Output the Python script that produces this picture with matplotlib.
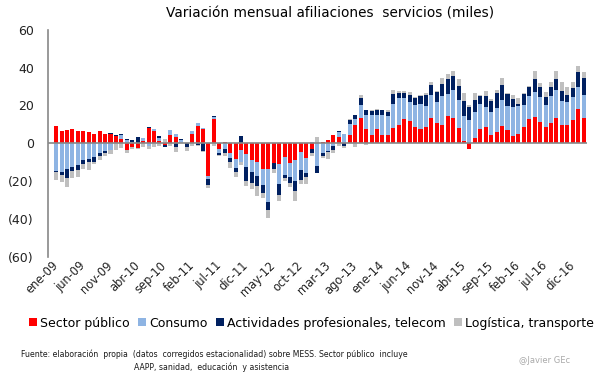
import numpy as np
import matplotlib
matplotlib.use("Agg")
import matplotlib.pyplot as plt

# variacion mensual (miles), ene-09 .. feb-17
sector_publico = [
    9.2, 6.5, 7.1, 7.6, 6.5, 6.5, 6.0, 4.9, 6.5, 4.9, 4.9, 3.9,
    2.5, -3.5, -2.0, -2.6, 1.2, 8.3, 6.5, 1.2, -1.1, 4.6, 3.4, 0.0,
    0.0, 4.9, 9.2, 7.6, -17.1, 12.9, -3.1, 0.7, -5.1, -8.3, -3.7, -5.6,
    -9.0, -9.7, -13.6, -13.6, -10.6, -10.9, -7.1, -10.6, -8.8, -4.6, -7.6, -3.0,
    0.0, 0.7, 1.8, 4.4, 3.5, 0.0, 4.4, 9.7, 13.4, 7.6, 4.4, 7.6,
    4.4, 4.4, 8.1, 9.7, 12.9, 11.8, 8.6, 7.6, 8.6, 13.4, 10.8, 9.7,
    14.5, 13.4, 8.1, 1.3, -3.0, 2.8, 7.6, 8.6, 4.4, 6.0, 9.2, 7.1,
    3.9, 4.9, 8.6, 12.9, 13.9, 11.3, 8.6, 10.8, 13.4, 9.7, 9.7, 12.4,
    18.2, 13.4]
consumo = [
    -14.6, -15.3, -13.6, -12.5, -11.5, -8.8, -8.3, -7.2, -5.1, -4.0, -3.4, 0.0,
    1.8, 1.8, 0.6, 0.0, 1.6, -1.3, 1.2, 1.6, 0.0, 2.3, 1.4, 1.8,
    0.0, 1.6, 1.5, 0.5, -1.7, 1.1, -1.9, -2.9, -2.6, -4.6, -6.0, -7.2,
    -6.4, -7.4, -8.5, -17.3, 0.0, -10.6, -9.9, -7.1, -11.1, -9.5, -7.9, 0.7,
    -12.0, -4.9, -4.2, -1.4, 2.5, 4.9, 5.9, 3.4, 6.8, 7.4, 10.5, 7.4,
    10.6, 10.1, 12.7, 14.3, 11.1, 10.1, 11.6, 13.2, 11.1, 12.2, 11.1, 15.4,
    11.6, 14.6, 14.8, 13.1, 12.4, 13.8, 13.2, 10.6, 12.2, 12.7, 13.8, 12.7,
    15.4, 14.8, 11.6, 12.2, 13.2, 13.2, 11.6, 14.3, 14.8, 12.7, 12.2, 12.2,
    11.6, 12.2]
actividades = [
    -0.5, -1.5, -4.8, -2.1, -2.5, -2.1, -1.6, -2.6, -1.6, -1.1, 0.5, 0.5,
    0.6, 0.5, 1.2, 3.3, 0.0, 0.4, 0.0, 1.1, -0.7, 0.0, -1.8, 0.5,
    -2.1, 0.0, -0.8, -3.9, -3.1, 0.5, -1.1, -2.2, -2.3, -2.3, 3.9, -7.1,
    -5.8, -5.5, -4.2, -4.4, -3.0, -5.8, -1.6, -3.2, -5.3, -5.6, -2.6, -1.9,
    -3.5, -2.1, -0.5, -2.1, 0.5, -1.2, 2.0, 1.8, 3.8, 2.6, 2.3, 2.8,
    2.6, 2.1, 5.3, 2.6, 2.6, 3.7, 3.7, 4.2, 5.8, 5.3, 5.3, 6.4,
    7.9, 7.6, 7.4, 7.9, 6.9, 6.4, 4.2, 5.8, 5.8, 7.9, 7.9, 6.4,
    4.2, 1.1, 5.8, 4.8, 6.9, 5.3, 4.2, 4.8, 5.8, 5.3, 3.7, 4.8,
    7.9, 9.0]
logistica = [
    -4.2, -3.6, -4.6, -3.7, -3.8, -2.6, -4.2, -1.1, -2.1, -1.6, -2.1, -3.4,
    -2.5, -1.5, -0.8, -0.4, -1.8, -1.6, -1.9, -1.3, 2.3, -1.2, -2.6, 0.0,
    -2.1, -1.3, -0.4, -0.6, -2.0, -1.3, -0.5, -1.6, -2.9, -2.5, -1.8, -2.6,
    -3.2, -5.3, -2.6, -4.1, -2.1, -3.0, -1.4, -2.1, -5.6, -1.8, -3.2, -2.1,
    3.5, -0.9, -3.4, -1.4, -1.4, -1.1, 0.4, -1.8, 1.5, -0.8, 0.5, 0.5,
    0.0, 1.1, 2.1, 1.1, 1.1, 1.6, 0.5, 0.5, 1.1, 1.6, 0.5, 3.2,
    2.6, 2.6, 3.7, 4.2, 1.1, 3.7, 0.5, 2.6, 1.1, 1.6, 3.7, 0.5,
    2.1, 3.2, 0.5, 0.5, 4.2, 2.1, 2.6, 2.6, 4.2, 4.8, 4.2, 3.2,
    3.2, 3.2]

etiquetas = ['ene-09', 'jun-09', 'nov-09', 'abr-10', 'sep-10', 'feb-11', 'jul-11',
             'dic-11', 'may-12', 'oct-12', 'mar-13', 'ago-13', 'ene-14', 'jun-14',
             'nov-14', 'abr-15', 'sep-15', 'feb-16', 'jul-16', 'dic-16']
yticks = [-60, -40, -20, 0, 20, 40, 60]
ytick_labels = ['(60)', '(40)', '(20)', '0', '20', '40', '60']

series = [
    (sector_publico, '#FF0000', 'Sector público'),
    (consumo, '#8EB4E3', 'Consumo'),
    (actividades, '#002060', 'Actividades profesionales, telecom'),
    (logistica, '#BFBFBF', 'Logística, transporte'),
]

fig = plt.figure(figsize=(6.05, 3.78), dpi=100)
ax = fig.add_axes([0.079, 0.321, 0.892, 0.600])

x = np.arange(len(sector_publico))
pos = np.zeros(len(x))
neg = np.zeros(len(x))
for vals, color, label in series:
    v = np.array(vals)
    base = np.where(v >= 0, pos, neg)
    ax.bar(x, v, 0.74, bottom=base, color=color, label=label, linewidth=0)
    pos += np.clip(v, 0, None)
    neg += np.clip(v, None, 0)

ax.axhline(0, color='#888888', lw=1.2, zorder=3)
ax.set_xlim(-1.53, 97.7)
ax.set_ylim(-60, 60)
ax.set_yticks(yticks)
ax.set_yticklabels(ytick_labels, fontsize=9, color='#222222')
ax.tick_params(axis='y', length=0, pad=10)

ax.set_xticks(x[::5])
ax.set_xticklabels(etiquetas, rotation=45, ha='right', va='center',
                   rotation_mode='anchor', fontsize=8.3, color='#222222')
ax.tick_params(axis='x', length=0, pad=5)

for s in ['top', 'right', 'bottom']:
    ax.spines[s].set_visible(False)
ax.spines['left'].set_color('#888888')
ax.spines['left'].set_linewidth(1.2)

fig.text(0.545, 0.965, 'Variación mensual afiliaciones  servicios (miles)',
         ha='center', va='center', fontsize=9.8)

fig.legend(loc='center', bbox_to_anchor=(0.515, 0.145), ncol=4, frameon=False,
           fontsize=9, handlelength=0.6, handleheight=0.6, handletextpad=0.25,
           columnspacing=0.7, borderpad=0)

fig.text(0.035, 0.063, 'Fuente: elaboración  propia  (datos  corregidos estacionalidad) '
         'sobre MESS. Sector público  incluye', fontsize=5.6, color='#1a1a1a',
         ha='left', va='center')
fig.text(0.35, 0.028, 'AAPP, sanidad,  educación  y asistencia', fontsize=5.6,
         color='#1a1a1a', ha='center', va='center')
fig.text(0.90, 0.045, '@Javier GEc', fontsize=6, color='#AAAAAA',
         ha='center', va='center')

fig.savefig('out.png', dpi=100)
